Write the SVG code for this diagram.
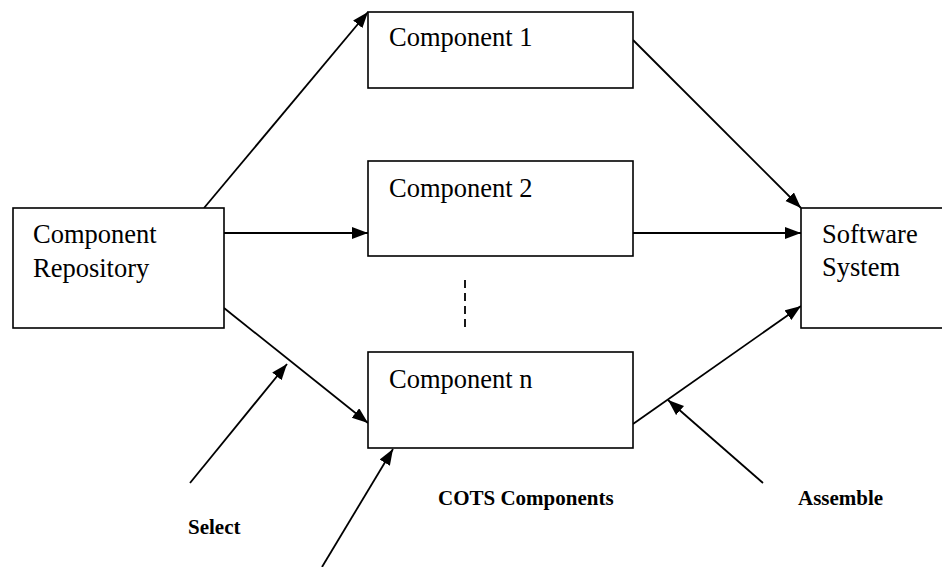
<svg xmlns="http://www.w3.org/2000/svg" width="942" height="567" viewBox="0 0 942 567">
<defs>
<marker id="ah" markerUnits="userSpaceOnUse" markerWidth="17" markerHeight="13" refX="16" refY="6" orient="auto">
<path d="M0,0 L16,6 L0,12 z" fill="#000"/>
</marker>
<style>
.box{fill:#fff;stroke:#000;stroke-width:1.6}
.t{font-size:26.5px;fill:#000}
.lb{font-size:21px;font-weight:bold;fill:#000}
.c{stroke:#000;stroke-width:1.8;fill:none}
.a{marker-end:url(#ah)}
</style>
</defs>
<rect width="942" height="567" fill="#fff"/>
<g id="connectors">
<line class="c a" x1="204" y1="208" x2="368" y2="12"/>
<line class="c a" x1="224" y1="233" x2="368" y2="233"/>
<line class="c a" x1="224" y1="308" x2="368" y2="423"/>
<line class="c a" x1="633" y1="40" x2="801" y2="208"/>
<line class="c a" x1="633" y1="233" x2="801" y2="233"/>
<line class="c a" x1="633" y1="424" x2="801" y2="306"/>
<line class="c" x1="465" y1="280" x2="465" y2="328" stroke-dasharray="8,5"/>
<line class="c a" x1="190" y1="483" x2="287" y2="364"/>
<line class="c a" x1="322" y1="567" x2="393" y2="449"/>
<line class="c a" x1="763" y1="483" x2="668" y2="400"/>
</g>
<g font-family="Liberation Serif, DejaVu Serif, Times New Roman, serif">
<g id="repository">
<rect class="box" x="13" y="208" width="211" height="120"/>
<text class="t" x="33" y="243">Component</text>
<text class="t" x="33" y="277">Repository</text>
</g>
<g id="component1">
<rect class="box" x="368" y="12" width="265" height="76"/>
<text class="t" x="389" y="46">Component 1</text>
</g>
<g id="component2">
<rect class="box" x="368" y="161" width="265" height="95"/>
<text class="t" x="389" y="197">Component 2</text>
</g>
<g id="componentn">
<rect class="box" x="368" y="352" width="265" height="96"/>
<text class="t" x="389" y="388">Component n</text>
</g>
<g id="software">
<rect class="box" x="801" y="208" width="150" height="120"/>
<text class="t" x="822" y="243">Software</text>
<text class="t" x="822" y="276">System</text>
</g>
<g id="labels">
<text class="lb" x="188" y="534">Select</text>
<text class="lb" x="438" y="505">COTS Components</text>
<text class="lb" x="798" y="505">Assemble</text>
</g>
</g>
</svg>
